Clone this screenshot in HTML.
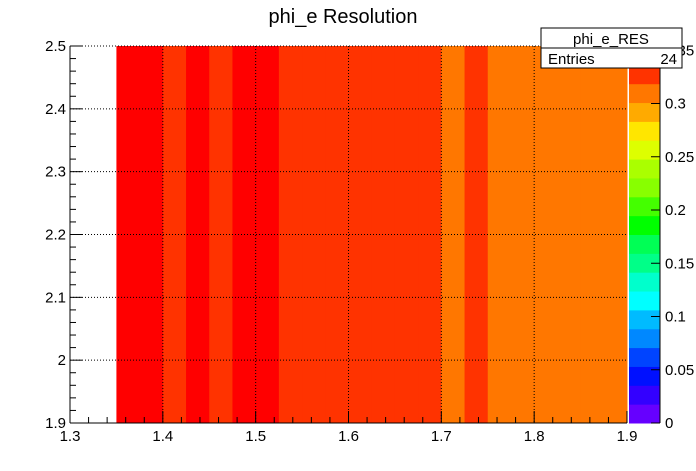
<!DOCTYPE html>
<html><head><meta charset="utf-8"><style>
body{margin:0;background:#fff}
svg{display:block;font-family:"Liberation Sans",Arial,sans-serif}
</style></head><body>
<svg id="c" width="696" height="471" xmlns="http://www.w3.org/2000/svg"></svg>
<script>
const binEdgesStart = 1.35, binWidth = 0.025;
const binValues = [0.345,0.345,0.33,0.345,0.33,0.345,0.345,0.33,0.33,0.33,0.33,0.33,0.33,0.33,0.31,0.33,0.31,0.31,0.31,0.31,0.31,0.31];
const xTicks = [1.3,1.4,1.5,1.6,1.7,1.8,1.9];
const yTicks = [1.9,2,2.1,2.2,2.3,2.4,2.5];
const zTicks = [0,0.05,0.1,0.15,0.2,0.25,0.3,0.35];
const palette = ["#6600ff","#3300ff","#0010ff","#0044ff","#0088ff","#00bbff","#00ffff","#00ffcc","#00ff88","#00ff55","#00ff00","#44ff00","#88ff00","#aaff00","#ddff00","#ffe600","#ffaa00","#ff7700","#ff3300","#ff0000"];
const zMax = 0.354;
const X0=70,X1=627,Y0=423,Y1=46;
const sx=v=>X0+(v-1.3)/(0.6)*(X1-X0);
const sy=v=>Y0-(v-1.9)/(0.6)*(Y0-Y1);
const ZX0=629,ZX1=660;
const sz=v=>Y0-v/zMax*(Y0-Y1);
const svg=document.getElementById('c');
const NS="http://www.w3.org/2000/svg";
function mk(t,a,txt){const e=document.createElementNS(NS,t);for(const k in a)e.setAttribute(k,a[k]);if(txt!==undefined)e.textContent=txt;svg.appendChild(e);return e;}
function colorFor(v){let i=Math.floor(v/zMax*palette.length);i=Math.max(0,Math.min(palette.length-1,i));return palette[i];}
binValues.forEach((v,i)=>{
  const a=binEdgesStart+i*binWidth;
  const r=mk('rect',{x:sx(a),y:Y1,width:sx(a+binWidth)-sx(a)+0.5,height:Y0-Y1,fill:colorFor(v)});
  
  
});
xTicks.slice(1,-1).forEach(t=>{const l=mk('line',{x1:sx(t),x2:sx(t),y1:Y1,y2:Y0,stroke:'#000','stroke-dasharray':'1,2'});});
yTicks.slice(1,-1).forEach(t=>{const l=mk('line',{x1:X0,x2:X1,y1:sy(t),y2:sy(t),stroke:'#000','stroke-dasharray':'1,2'});});
mk('line',{x1:X0,x2:X1,y1:Y1,y2:Y1,stroke:'#000','stroke-dasharray':'1,2'});
mk('line',{x1:X0,x2:X1,y1:Y0,y2:Y0,stroke:'#000'});
mk('line',{x1:X0,x2:X0,y1:Y1,y2:Y0,stroke:'#000'});
for(let k=0;k<=30;k++){const v=1.3+k*0.02;const major=k%5===0;mk('line',{x1:sx(v),x2:sx(v),y1:Y0,y2:Y0-(major?12:6),stroke:'#000'});}
xTicks.forEach(t=>{const e=mk('text',{x:sx(t),y:Y0+18,'text-anchor':'middle','font-size':15},t.toFixed(1));});
for(let k=0;k<=30;k++){const v=1.9+k*0.02;const major=k%5===0;mk('line',{x1:X0,x2:X0+(major?12:6),y1:sy(v),y2:sy(v),stroke:'#000'});}
yTicks.forEach(t=>{const e=mk('text',{x:X0-4,y:sy(t)+5,'text-anchor':'end','font-size':15},t===2?'2':t.toFixed(1));});
palette.forEach((c,i)=>{const r=mk('rect',{x:ZX0,y:sz((i+1)*zMax/palette.length),width:ZX1-ZX0,height:(Y0-Y1)/palette.length+0.5,fill:c});});
zTicks.forEach(t=>{mk('line',{x1:ZX1-9,x2:ZX1,y1:sz(t),y2:sz(t),stroke:'#000'});const e=mk('text',{x:ZX1+5,y:sz(t)+5,'font-size':15},String(t));});
mk('line',{x1:ZX1,x2:ZX1,y1:Y1,y2:Y0,stroke:'#000'});
</script>
<svg width="696" height="471" style="position:absolute;left:0;top:0" xmlns="http://www.w3.org/2000/svg">
<text x="343" y="23" text-anchor="middle" font-size="20" font-family="Liberation Sans, sans-serif">phi_e Resolution</text>
<g>
<rect x="541" y="28" width="141" height="40" fill="#fff" stroke="#000"/>
<line x1="541" y1="48" x2="682" y2="48" stroke="#000"/>
<text x="611" y="44" text-anchor="middle" font-size="15" font-family="Liberation Sans, sans-serif">phi_e_RES</text>
<text x="548" y="64" font-size="15" font-family="Liberation Sans, sans-serif">Entries</text>
<text x="677" y="64" text-anchor="end" font-size="15" font-family="Liberation Sans, sans-serif">24</text>
</g>
</svg>
</body></html>
